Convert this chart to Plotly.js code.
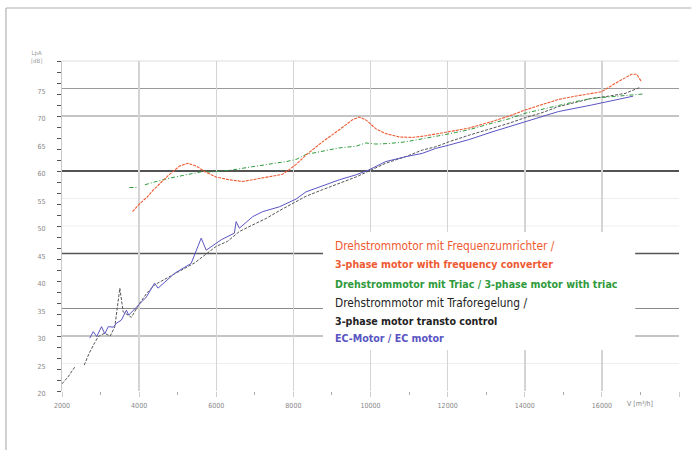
<!DOCTYPE html>
<html>
<head>
<meta charset="utf-8">
<script src="https://cdn.plot.ly/plotly-3.0.1.min.js"></script>
<style>html,body{margin:0;padding:0;background:#fff;}#chart{width:693px;height:450px;}</style>
</head>
<body>
<div id="chart"></div>
<script>
// Frequency converter (red)
const freqV = [3830, 4020, 4200, 4360, 4580, 4790, 5050, 5265, 5480, 5700, 6000, 6340, 6690, 7030, 7380, 7720, 7900, 8070, 8325, 8755, 9190, 9530, 9705, 9880, 10135, 10390, 10740, 11080, 11430, 11770, 12200, 12550, 13150, 13600, 14010, 14450, 14870, 15300, 15735, 15990, 16340, 16770, 16900, 17030];
const freqL = [52.6, 54.1, 55.2, 56.5, 58.0, 59.4, 60.9, 61.4, 60.9, 59.9, 58.9, 58.4, 58.1, 58.5, 59.0, 59.4, 60.3, 61.2, 62.9, 65.3, 67.5, 69.3, 69.8, 69.3, 67.7, 66.8, 66.2, 66.1, 66.4, 66.8, 67.3, 67.8, 69.0, 70.0, 71.1, 72.0, 73.0, 73.6, 74.1, 74.4, 75.9, 77.6, 77.6, 76.2];
// Triac (green)
const triacV = [3750, 3950, null, 4150, 4275, 4500, 4790, 5000, 5225, 5450, 5650, 5850, 6085, 6300, 6515, 6730, 6945, 7160, 7380, 7600, 7810, 8070, 8325, 8755, 9190, 9620, 9880, 10135, 10480, 10910, 11340, 11770, 12200, 12550, 13150, 13600, 14010, 14450, 14870, 15300, 15735, 16170, 16600, 17070];
const triacL = [57.0, 57.0, null, 57.5, 57.8, 58.2, 58.7, 59.0, 59.3, 59.6, 59.9, 59.8, 59.9, 60.1, 60.3, 60.6, 60.8, 61.0, 61.3, 61.5, 61.7, 62.1, 63.0, 63.6, 64.2, 64.5, 65.1, 64.9, 65.0, 65.3, 65.8, 66.4, 67.0, 67.5, 68.7, 69.5, 70.5, 71.2, 72.0, 72.6, 73.2, 73.5, 73.8, 74.0];
// Transformer control (black)
const trafoV = [2000, 2150, 2336, null, 2577, 2700, 2850, 2940, 3100, 3250, 3370, 3500, 3585, 3700, 3800, 4000, 4200, 4400, 4700, 5000, 5440, 5775, 6000, 6290, 6600, 6945, 7300, 7640, 7900, 8325, 8755, 9190, 9620, 9960, 10390, 10910, 11340, 11690, 12030, 12550, 13150, 13600, 14010, 14450, 14870, 15300, 15735, 16170, 16600, 16990];
const trafoL = [21.3, 22.5, 24.4, null, 24.7, 26.8, 28.8, 29.9, 30.5, 30.0, 31.7, 38.7, 34.4, 33.8, 33.4, 35.8, 37.8, 39.3, 40.5, 41.6, 43.3, 45.0, 46.3, 47.2, 49.0, 50.2, 51.4, 52.8, 53.8, 55.4, 56.6, 57.8, 58.9, 60.0, 61.4, 62.6, 63.8, 64.4, 65.3, 66.5, 67.7, 68.7, 69.7, 70.6, 71.7, 72.4, 73.2, 73.6, 74.1, 75.2];
// EC motor (blue)
const ecV = [2720, 2810, 2900, 3025, 3110, 3200, 3330, 3410, 3540, 3670, 3730, 3970, 4190, 4400, 4490, 4920, 5350, 5610, 5740, 6130, 6470, 6515, 6600, 6945, 7200, 7640, 7900, 8070, 8325, 8755, 9190, 9620, 9960, 10390, 10910, 11340, 11690, 12030, 12550, 13150, 14010, 14870, 15735, 16340, 16810];
const ecL = [29.6, 30.8, 29.9, 31.7, 30.4, 31.7, 31.6, 32.3, 32.9, 34.7, 33.8, 35.6, 37.1, 39.6, 38.7, 41.4, 43.2, 47.8, 45.6, 47.5, 48.7, 50.8, 49.6, 51.7, 52.6, 53.5, 54.3, 54.9, 56.2, 57.3, 58.4, 59.3, 60.2, 61.7, 62.6, 63.2, 64.1, 64.7, 65.7, 67.1, 69.0, 70.8, 72.0, 72.9, 73.6];

const xTickVals = [2000, 4000, 6000, 8000, 10000, 12000, 14000, 16000, 18000];
const xTickText = ['2000', '4000', '6000', '8000', '10000', '12000', '14000', '16000', ''];
const yTickVals = [20, 25, 30, 35, 40, 45, 50, 55, 60, 65, 70, 75];
const xUnitLabel = 'V [m³/h]';
const yUnitLabel = 'LpA<br>[dB]';
const legendLines = [
  'Drehstrommotor mit Frequenzumrichter /',
  '3-phase motor with frequency converter',
  'Drehstrommotor mit Triac / 3-phase motor with triac',
  'Drehstrommotor mit Traforegelung /',
  '3-phase motor transto control',
  'EC-Motor / EC motor'
];

const FONT = 'DejaVu Sans Condensed, DejaVu Sans, sans-serif';
const RED = '#ef5a32', GREEN = '#2f9a3c', BLACK = '#222222', BLUE = '#5a55c2';

const traces = [
  {x: trafoV, y: trafoL, mode: 'lines', line: {color: '#555555', width: 1, dash: '3px,1.5px'}, connectgaps: false, hoverinfo: 'skip'},
  {x: ecV, y: ecL, mode: 'lines', line: {color: BLUE, width: 1}, hoverinfo: 'skip'},
  {x: triacV, y: triacL, mode: 'lines', line: {color: GREEN, width: 1, dash: '4px,2px,1px,2px'}, connectgaps: false, hoverinfo: 'skip'},
  {x: freqV, y: freqL, mode: 'lines', line: {color: RED, width: 1.1, dash: '3px,1px'}, hoverinfo: 'skip'}
];

function hline(v, color, w) {
  return {type: 'line', xref: 'paper', yref: 'y', x0: 0, x1: 1, y0: v, y1: v, line: {color: color, width: w}, layer: 'below'};
}
const shapes = [
  hline(25, '#eeeeee', 1), hline(50, '#eeeeee', 1), hline(55, '#eeeeee', 1),
  hline(75, '#9a9a9a', 1.2), hline(70, '#8a8a8a', 1.2), hline(60, '#1a1a1a', 1.6),
  hline(45, '#555555', 1.6), hline(35, '#8a8a8a', 1.2), hline(30, '#8a8a8a', 1.2),
  {type: 'line', xref: 'paper', yref: 'paper', x0: 0, x1: 1, y0: 1, y1: 1, line: {color: '#dddddd', width: 1}, layer: 'below'},
  {type: 'rect', xref: 'paper', yref: 'paper', x0: 0.423, x1: 0.929, y0: 0.124, y1: 0.482, fillcolor: '#ffffff', line: {width: 0}, layer: 'above'},
  {type: 'line', xref: 'paper', yref: 'paper', x0: -0.0908, x1: -0.0908, y0: -0.2, y1: 1.1606, line: {color: '#b0b0b0', width: 1.2}},
  {type: 'line', xref: 'paper', yref: 'paper', x0: -0.0908, x1: 1.02, y0: 1.1606, y1: 1.1606, line: {color: '#b0b0b0', width: 1.2}}
];

const legendColors = [RED, RED, GREEN, BLACK, BLACK, BLUE];
const legendWeights = [400, 700, 700, 400, 700, 700];
const legendSizes = [11.8, 10.6, 10.6, 11.8, 10.6, 10.6];
const legendY = [0.4403, 0.384, 0.3233, 0.2658, 0.2121, 0.1597];
const annotations = legendLines.map((t, i) => ({
  text: t, xref: 'paper', yref: 'paper', x: 0.4392, y: legendY[i], xanchor: 'left', yanchor: 'middle',
  showarrow: false, font: {family: FONT, size: legendSizes[i], color: legendColors[i], weight: legendWeights[i]}
}));
annotations.push({text: xUnitLabel, xref: 'x', yref: 'paper', x: 17000, y: 0, yanchor: 'top', yshift: -7,
  showarrow: false, font: {family: FONT, size: 7, color: '#888888'}});
annotations.push({text: yUnitLabel, xref: 'paper', yref: 'paper', x: -0.042, y: 1.015, xanchor: 'center', yanchor: 'middle',
  showarrow: false, font: {family: FONT, size: 6, color: '#999999'}});

const layout = {
  width: 693, height: 450,
  margin: {l: 62, r: 14, t: 61, b: 59},
  paper_bgcolor: '#ffffff', plot_bgcolor: '#ffffff',
  showlegend: false,
  xaxis: {
    range: [2000, 18000], tickmode: 'array', tickvals: xTickVals, ticktext: xTickText,
    showgrid: true, gridcolor: '#d4d4d4', gridwidth: 1.5,
    ticks: 'outside', ticklen: 5, tickcolor: '#cccccc', ticklabelstandoff: 3,
    tickfont: {family: FONT, size: 7, color: '#888888'},
    minor: {tickmode: 'array', tickvals: [3000, 5000, 7000, 9000, 11000, 13000, 15000, 17000], ticks: 'outside', ticklen: 3, tickcolor: '#aaaaaa', showgrid: false},
    showline: false, zeroline: false, fixedrange: true
  },
  yaxis: {
    range: [20, 80], tickmode: 'array', tickvals: yTickVals,
    showgrid: false, ticks: '', ticklabelstandoff: 14, ticklabelshift: 3,
    tickfont: {family: FONT, size: 7, color: '#888888'},
    minor: {dtick: 2, tick0: 0, ticks: 'outside', ticklen: 4, tickcolor: '#555555', showgrid: false},
    showline: true, linecolor: '#c8c8c8', linewidth: 1, zeroline: false, fixedrange: true
  },
  shapes: shapes,
  annotations: annotations
};

Plotly.newPlot('chart', traces, layout, {displayModeBar: false, staticPlot: true});
</script>
</body>
</html>
